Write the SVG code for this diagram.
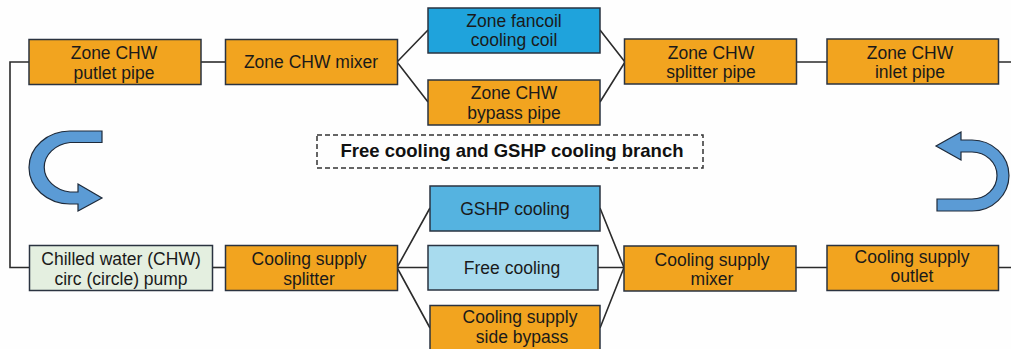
<svg xmlns="http://www.w3.org/2000/svg" width="1011" height="349" viewBox="0 0 1011 349">
<style>
.box{stroke:#2a3340;stroke-width:1.5}
.or{fill:#F2A41F}
.b1{fill:#1FA3DC}
.b2{fill:#55B3E0}
.b3{fill:#A8DBEE}
.gr{fill:#E4EFE0}
.t{font-family:"Liberation Sans",Arial,sans-serif;font-size:17.5px;fill:#1a1a1a;text-anchor:middle}
.hd{font-family:"Liberation Sans",Arial,sans-serif;font-size:18.5px;font-weight:bold;fill:#111;text-anchor:middle}
.ln{stroke:#2b2b2b;stroke-width:1.6;fill:none}
.arr{fill:#5B9BD5;stroke:#1e2a3a;stroke-width:1.2}
</style>
<rect width="1011" height="349" fill="#fefefe"/>
<g id="connectors">
<path class="ln" d="M29,62 H10 V267.5 H30"/>
<path class="ln" d="M201,62 H225"/>
<path class="ln" d="M397,62 L428,30 M397,62 L428,102"/>
<path class="ln" d="M600,30 L625,62 M600,102 L625,62"/>
<path class="ln" d="M797,62 H827 M998,62 H1011"/>
<path class="ln" d="M212,267.5 H225"/>
<path class="ln" d="M397,267.5 L430,208 M397,267.5 H428 M397,267.5 L430,328"/>
<path class="ln" d="M600,208 L624,267.5 M598,267.5 H624 M600,328 L624,267.5"/>
<path class="ln" d="M796,267.5 H827 M998,267.5 H1011"/>
</g>
<g id="n_putlet"><rect class="box or" x="29" y="39.5" width="172" height="45"/><text class="t" x="114" y="59">Zone CHW</text><text class="t" x="114" y="78.5">putlet pipe</text></g>
<g id="n_mixer"><rect class="box or" x="225.5" y="39.5" width="172" height="45"/><text class="t" x="311" y="68">Zone CHW mixer</text></g>
<g id="n_fancoil"><rect class="box b1" x="428" y="8" width="172" height="45"/><text class="t" x="514" y="26.5">Zone fancoil</text><text class="t" x="514" y="46">cooling coil</text></g>
<g id="n_bypass"><rect class="box or" x="428" y="80" width="172" height="45"/><text class="t" x="514" y="99">Zone CHW</text><text class="t" x="514" y="118.5">bypass pipe</text></g>
<g id="n_splitter"><rect class="box or" x="624.5" y="39" width="172" height="45"/><text class="t" x="711" y="58.5">Zone CHW</text><text class="t" x="711" y="78">splitter pipe</text></g>
<g id="n_inlet"><rect class="box or" x="827" y="39" width="171.5" height="45"/><text class="t" x="910" y="58.5">Zone CHW</text><text class="t" x="910" y="78">inlet pipe</text></g>
<g id="n_branch"><rect x="317" y="135" width="386" height="33" fill="none" stroke="#333" stroke-width="1.5" stroke-dasharray="5,3"/><text class="hd" x="512" y="157">Free cooling and GSHP cooling branch</text></g>
<g id="n_pump"><rect class="box gr" x="29.5" y="245.5" width="183" height="45"/><text class="t" x="121" y="265">Chilled water (CHW)</text><text class="t" x="121" y="284.5">circ (circle) pump</text></g>
<g id="n_csplit"><rect class="box or" x="225.5" y="245.5" width="172" height="45"/><text class="t" x="309" y="265">Cooling supply</text><text class="t" x="309" y="284.5">splitter</text></g>
<g id="n_gshp"><rect class="box b2" x="430" y="186" width="170" height="45"/><text class="t" x="515" y="214.5">GSHP cooling</text></g>
<g id="n_free"><rect class="box b3" x="428" y="245.5" width="170" height="44.5"/><text class="t" x="512" y="273.5">Free cooling</text></g>
<g id="n_sidebypass"><rect class="box or" x="430" y="305.5" width="170" height="47"/><text class="t" x="520" y="323">Cooling supply</text><text class="t" x="522" y="342.5">side bypass</text></g>
<g id="n_cmixer"><rect class="box or" x="624" y="246" width="172" height="45"/><text class="t" x="712" y="265.5">Cooling supply</text><text class="t" x="712" y="285">mixer</text></g>
<g id="n_outlet"><rect class="box or" x="827" y="245.5" width="171.5" height="45"/><text class="t" x="912" y="262.5">Cooling supply</text><text class="t" x="912" y="282">outlet</text></g>
<g id="arrow_left"><path class="arr" d="M102,131 H70 A41,36.5 0 0 0 70,204 H78 V211 L102,198 L78,184 V192 H70 A30,25 0 0 1 70,142.5 H102 Z"/></g>
<g id="arrow_right"><path class="arr" d="M937,211 H972 A37,35.5 0 0 0 972,140 H961 V132 L936,146 L961,160 V152 H972 A25,23.5 0 0 1 972,199 H937 Z"/></g>
</svg>
